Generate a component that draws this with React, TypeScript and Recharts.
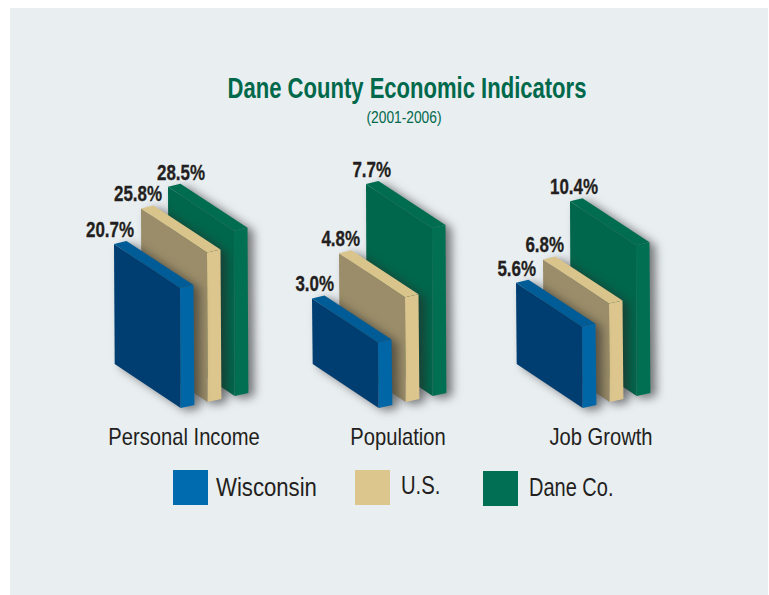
import { Bar, BarChart, XAxis, YAxis } from 'recharts';

const seriesNames = ['Dane Co.', 'U.S.', 'Wisconsin'];
const personalIncome = [28.5, 25.8, 20.7];
const population = [7.7, 4.8, 3.0];
const jobGrowth = [10.4, 6.8, 5.6];

const INK = '#231f20';
const GREEN_TEXT = '#00694b';
const SANS = '"Liberation Sans", sans-serif';

// front, side and top faces of each slab
const faces: Record<string, { front: string; side: string; top: string; swatch: string }> = {
  Wisconsin: { front: '#003e71', side: '#0066a6', top: '#005c96', swatch: '#006bae' },
  'U.S.': { front: '#9b8d69', side: '#ddc68d', top: '#d9c48c', swatch: '#ddc68d' },
  'Dane Co.': { front: '#00674c', side: '#006f52', top: '#006d50', swatch: '#006f53' },
};

const SLAB_W = 66;
const SLAB_DROP = 44;
const DEPTH_X = 13.5;
const DEPTH_Y = 3;
const ROW_RISE = 6;

const pts = (list: number[][]) => list.map((p) => p.join(',')).join(' ');

const Slab = (props: any) => {
  const { x, y, height, index, payload, labelRight } = props;
  const c = faces[payload.series];
  const t = y - (seriesNames.length - 1 - index) * ROW_RISE;
  const h = height;
  return (
    <g>
      <g style={{ filter: 'drop-shadow(6px 3px 5px rgba(40,40,40,0.6))' }}>
        <polygon
          points={pts([[x, t], [x + SLAB_W, t + SLAB_DROP], [x + SLAB_W + 0.7, t + SLAB_DROP + h], [x + 0.7, t + h]])}
          fill={c.front}
        />
        <polygon
          points={pts([
            [x + SLAB_W, t + SLAB_DROP],
            [x + SLAB_W + DEPTH_X, t + SLAB_DROP - DEPTH_Y],
            [x + SLAB_W + DEPTH_X + 0.9, t + SLAB_DROP - DEPTH_Y + h],
            [x + SLAB_W + 0.7, t + SLAB_DROP + h],
          ])}
          fill={c.side}
        />
        <polygon
          points={pts([
            [x, t],
            [x + DEPTH_X - 1, t - DEPTH_Y],
            [x + SLAB_W + DEPTH_X, t + SLAB_DROP - DEPTH_Y],
            [x + SLAB_W, t + SLAB_DROP],
          ])}
          fill={c.top}
        />
      </g>
      <text
        transform={`translate(${x + labelRight[index]} ${t - 15}) scale(0.77 1)`}
        textAnchor="end"
        dominantBaseline="central"
        fontFamily={SANS}
        fontWeight={700}
        fontSize={22}
        stroke={INK}
        strokeWidth={0.3}
        fill={INK}
      >
        {payload.value.toFixed(1)}%
      </text>
    </g>
  );
};

const panels = [
  { name: 'Personal Income', values: personalIncome, max: 34.5, left: 114, labelX: 183.5, labelRight: [37, 21, 20] },
  { name: 'Population', values: population, max: 9.17, left: 312, labelX: 398, labelRight: [25, 21, 22] },
  { name: 'Job Growth', values: jobGrowth, max: 13.8, left: 516, labelX: 600.5, labelRight: [28, 21, 20] },
];

const legendItems = [
  { name: 'Wisconsin', swatchX: 173, swatchY: 470, textX: 216, textY: 487, squeeze: 0.886 },
  { name: 'U.S.', swatchX: 355, swatchY: 470, textX: 401, textY: 485, squeeze: 0.81 },
  { name: 'Dane Co.', swatchX: 483, swatchY: 471, textX: 529, textY: 487, squeeze: 0.8 },
];

// the typeface is condensed, so centred text gets squeezed horizontally
const textAt = (x: number, y: number, size: number, color: string, squeeze: number, bold = false) =>
  ({
    position: 'absolute',
    left: x,
    top: y,
    transform: `translate(-50%, -50%) scaleX(${squeeze})`,
    whiteSpace: 'nowrap',
    fontFamily: SANS,
    fontSize: size,
    fontWeight: bold ? 700 : 400,
    color,
    lineHeight: 1,
  }) as React.CSSProperties;

const App = () => (
  <div style={{ position: 'absolute', left: 0, top: 0, width: 769, height: 595, background: '#fff', overflow: 'hidden' }}>
    <div style={{ position: 'absolute', left: 10, top: 8, width: 758, height: 587, background: '#e9eef1' }} />

    <div style={textAt(407, 88, 29, GREEN_TEXT, 0.76, true)}>Dane County Economic Indicators</div>
    <div style={textAt(404, 118, 16, GREEN_TEXT, 0.86)}>(2001-2006)</div>

    {panels.map((p) => (
      <div key={p.name}>
        <div style={{ position: 'absolute', left: p.left - 40, top: 141 }}>
          <BarChart
            width={251}
            height={283}
            data={seriesNames.map((series, i) => ({ series, value: p.values[i] }))}
            margin={{ top: 23, right: 130, bottom: 60, left: 40 }}
            barCategoryGap={0}
          >
            <XAxis dataKey="series" hide reversed />
            <YAxis hide domain={[0, p.max]} />
            <Bar
              dataKey="value"
              isAnimationActive={false}
              shape={(props: any) => <Slab {...props} labelRight={p.labelRight} />}
            />
          </BarChart>
        </div>
        <div style={textAt(p.labelX, 437, 24, INK, 0.84)}>{p.name}</div>
      </div>
    ))}

    {legendItems.map((item) => (
      <div key={item.name}>
        <div
          style={{
            position: 'absolute',
            left: item.swatchX,
            top: item.swatchY,
            width: 35,
            height: 35,
            background: faces[item.name].swatch,
          }}
        />
        <div
          style={{
            ...textAt(item.textX, item.textY, 25, INK, item.squeeze),
            transform: `translateY(-50%) scaleX(${item.squeeze})`,
            transformOrigin: '0 50%',
          }}
        >
          {item.name}
        </div>
      </div>
    ))}
  </div>
);

export default App;
